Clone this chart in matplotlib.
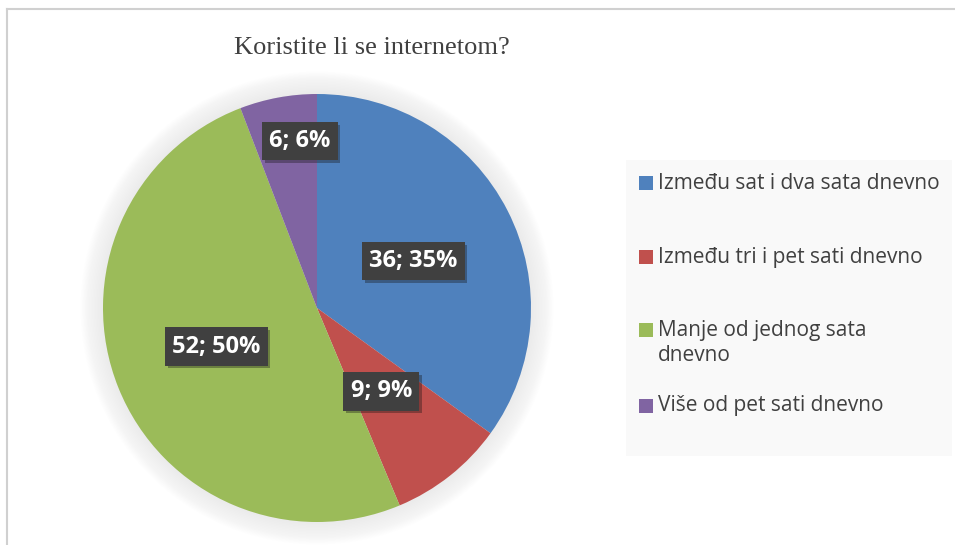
import matplotlib.pyplot as plt
import matplotlib.patheffects as pe
from matplotlib.patches import Rectangle, Circle
from matplotlib.lines import Line2D

title = 'Koristite li se internetom?'
labels = ['Između sat i dva sata dnevno', 'Između tri i pet sati dnevno',
          'Manje od jednog sata\ndnevno', 'Više od pet sati dnevno']
values = [36, 9, 52, 6]
colors = ['#4F81BD', '#C0504D', '#9BBB59', '#8064A2']

# label spots inside the pie (data units), legend rows (pixels from top)
label_pos = [(0.45, 0.22), (0.30, -0.39), (-0.47, -0.18), (-0.08, 0.78)]
legend_y = [183, 257, 343, 406]

W, H = 955, 545
fig = plt.figure(figsize=(W / 100, H / 100), dpi=100)

# frame lines on left and top
fig.add_artist(Line2D([7 / W, 7 / W], [0, 1 - 9 / H], color='#d0d0d0', lw=1.5))
fig.add_artist(Line2D([7 / W, 1], [1 - 9 / H, 1 - 9 / H], color='#d0d0d0', lw=1.5))

cx, cy, r = 317, 308, 214
ax = fig.add_axes([(cx - r) / W, (H - cy - r) / H, 2 * r / W, 2 * r / H])

# soft shadow halo
for k in range(16):
    ax.add_patch(Circle((0, 0), 1.0 + 0.007 * k, color='#a0a0a0',
                        alpha=0.012, lw=0, zorder=0, clip_on=False))

wedges, _ = ax.pie(values, colors=colors, startangle=90, counterclock=False,
                   radius=1.0, wedgeprops=dict(linewidth=0))
for w in wedges:
    w.set_zorder(2)

total = sum(values)
for (x, y), v in zip(label_pos, values):
    t = ax.text(x, y, f'{v}; {round(100 * v / total)}%', ha='center',
                va='center', color='white', fontsize=17, fontweight='bold',
                family='Open Sans', zorder=5,
                bbox=dict(boxstyle='square,pad=0.3', fc='#404040', ec='none'))
    t.get_bbox_patch().set_path_effects(
        [pe.SimplePatchShadow(offset=(2, -2), alpha=0.35), pe.Normal()])

ax.set_xlim(-1, 1)
ax.set_ylim(-1, 1)
ax.set_aspect('equal')
ax.axis('off')

fig.text(372 / W, 1 - 48 / H, title, ha='center', va='center',
         family='Liberation Serif', fontsize=19, color='#404040')

# legend panel
fig.add_artist(Rectangle((626 / W, 1 - 456 / H), 326 / W, 296 / H,
                         transform=fig.transFigure, fc='#f9f9f9', ec='none'))
for lab, col, y in zip(labels, colors, legend_y):
    sy = y if '\n' not in lab else y - 13
    fig.add_artist(Rectangle((639 / W, 1 - (sy + 7) / H), 14 / W, 14 / H,
                             transform=fig.transFigure, fc=col, ec='none'))
    fig.text(658 / W, 1 - y / H, lab, ha='left', va='center', family='Open Sans',
             fontsize=15, color='#404040', linespacing=1.3)

fig.savefig('out.png', dpi=100)
